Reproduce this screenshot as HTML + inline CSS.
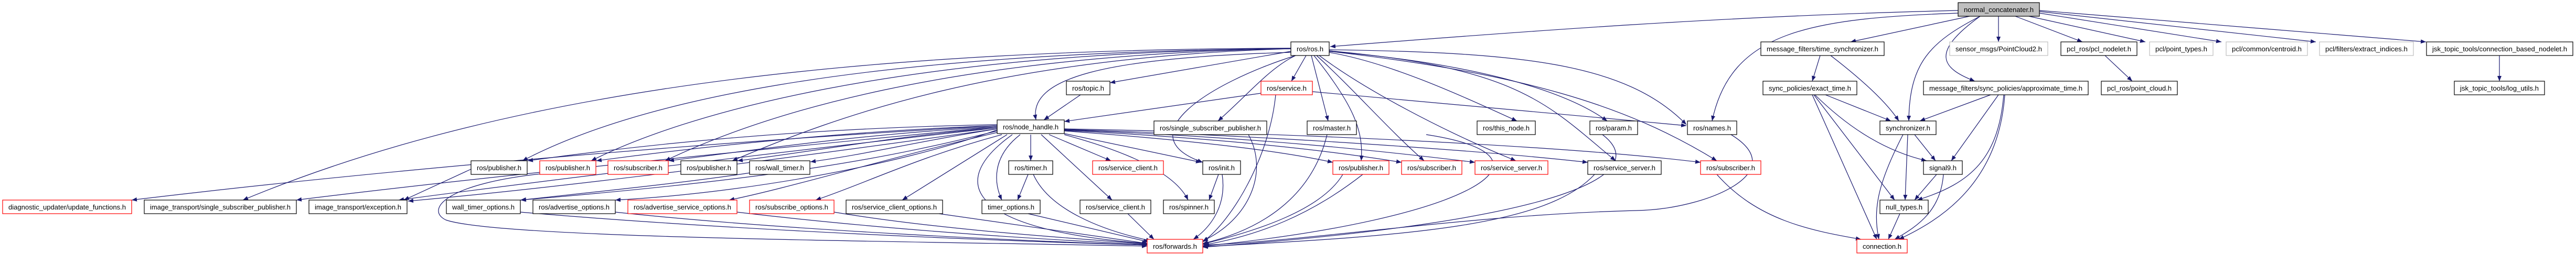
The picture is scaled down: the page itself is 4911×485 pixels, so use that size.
<!DOCTYPE html>
<html><head><meta charset="utf-8"><style>
html,body{margin:0;padding:0;background:#fff;}
svg{display:block;}
text{font-family:"Liberation Sans",sans-serif;font-size:13px;fill:#000;}
.e{fill:none;stroke:#191970;stroke-width:1.2;marker-end:url(#a);}
.k{fill:#fff;stroke:#000;stroke-width:1.2;}
.r{fill:#fff;stroke:#ff0000;stroke-width:1.2;}
.g{fill:#fff;stroke:#bfbfbf;stroke-width:1.2;}
</style></head><body>
<svg width="4911" height="485" viewBox="0 0 4911 485" xmlns="http://www.w3.org/2000/svg">
<defs><marker id="a" viewBox="0 0 10 10" refX="10" refY="5" markerWidth="10" markerHeight="10" markerUnits="userSpaceOnUse" orient="auto"><path d="M0,1 L10,5 L0,9 z" fill="#191970"/></marker></defs>
<g>
<!-- normal_concatenater edges -->
<path class="e" d="M3733 20 C3300 30 2900 60 2536 89"/>
<path class="e" d="M3735 25 C3450 35 3300 60 3264 231"/>
<path class="e" d="M3755 31 L3528 80"/>
<path class="e" d="M3775 31 C3680 80 3640 120 3639 231"/>
<path class="e" d="M3775 31 C3680 100 3700 130 3765 155"/>
<path class="e" d="M3810 31 L3810 80"/>
<path class="e" d="M3842 31 L3970 80"/>
<path class="e" d="M3868 31 L4090 80"/>
<path class="e" d="M3888 25 L4235 80"/>
<path class="e" d="M3888 22 L4415 80"/>
<path class="e" d="M3888 20 L4625 80"/>
<path class="e" d="M4013 106 L4065 155"/>
<path class="e" d="M4765 106 L4765 155"/>
<path class="e" d="M3470 106 L3455 155"/>
<path class="e" d="M3490 106 C3560 160 3600 200 3620 231"/>
<path class="e" d="M3480 181 L3605 231"/>
<path class="e" d="M3460 181 C3530 250 3600 290 3673 307"/>
<path class="e" d="M3458 181 L3612 382"/>
<path class="e" d="M3455 181 L3578 457"/>
<path class="e" d="M3795 181 L3660 231"/>
<path class="e" d="M3810 181 L3720 307"/>
<path class="e" d="M3820 181 C3810 300 3760 350 3655 382"/>
<path class="e" d="M3822 181 C3810 350 3700 420 3620 457"/>
<path class="e" d="M3650 257 L3690 307"/>
<path class="e" d="M3637 257 L3632 382"/>
<path class="e" d="M3628 257 C3580 350 3570 400 3582 457"/>
<path class="e" d="M3692 333 L3650 382"/>
<path class="e" d="M3705 333 C3700 400 3660 430 3612 457"/>
<path class="e" d="M3622 408 L3600 457"/>
<path class="e" d="M3300 257 C3420 330 3250 400 3120 402 C2800 410 2500 460 2295 468"/>
<path class="e" d="M3273 333 C3350 420 3450 440 3548 457"/>
<!-- ros.h edges -->
<path class="e" d="M2534 95 C2900 100 3100 120 3215 238"/>
<path class="e" d="M2534 98 C2900 140 3100 200 3273 307"/>
<path class="e" d="M2502 175 C2800 200 3000 220 3215 240"/>
<path class="e" d="M2461 100 C2100 110 1960 150 1975 229"/>
<path class="e" d="M2461 98 L2116 158"/>
<path class="e" d="M2060 181 L1990 229"/>
<path class="e" d="M2404 178 L2029 232"/>
<path class="e" d="M2490 106 L2462 155"/>
<path class="e" d="M2470 106 C2420 130 2380 180 2322 231"/>
<path class="e" d="M2500 106 L2532 231"/>
<path class="e" d="M2505 106 C2580 200 2600 250 2595 307"/>
<path class="e" d="M2510 106 C2580 170 2650 250 2715 307"/>
<path class="e" d="M2515 106 C2600 170 2750 250 2890 307"/>
<path class="e" d="M2534 100 C2650 120 2780 180 2892 231"/>
<path class="e" d="M2534 98 C2800 120 2980 170 3064 231"/>
<path class="e" d="M2534 97 C2900 130 2950 200 3080 307"/>
<path class="e" d="M2470 106 C2300 160 2150 260 2293 310"/>
<path class="e" d="M2461 93 C1600 100 1200 200 996 307"/>
<path class="e" d="M2461 93 C1700 100 1300 220 1127 307"/>
<path class="e" d="M2461 93 C1800 105 1450 220 1268 307"/>
<path class="e" d="M2461 93 C1900 110 1600 220 1396 307"/>
<path class="e" d="M2461 92 C1500 95 900 200 463 382"/>
<!-- node_handle edges -->
<path class="e" d="M1901 240 C1200 280 600 340 251 382"/>
<path class="e" d="M1901 242 C1400 290 900 340 565 382"/>
<path class="e" d="M1901 244 C1400 300 1000 350 760 382"/>
<path class="e" d="M1901 246 C1450 310 1050 360 778 384"/>
<path class="e" d="M1901 238 C1500 245 1200 280 1006 307"/>
<path class="e" d="M1901 240 C1600 250 1300 285 1137 307"/>
<path class="e" d="M1901 242 C1650 255 1450 285 1275 307"/>
<path class="e" d="M1901 244 C1700 260 1550 290 1406 307"/>
<path class="e" d="M1901 246 C1750 270 1650 295 1545 309"/>
<path class="e" d="M1901 250 C1700 300 1500 340 992 382"/>
<path class="e" d="M1430 330 C1300 350 1100 370 993 382"/>
<path class="e" d="M1901 248 C1700 320 1400 370 1173 382"/>
<path class="e" d="M1905 252 C1700 300 1500 360 1390 382"/>
<path class="e" d="M1910 257 C1750 300 1650 350 1555 382"/>
<path class="e" d="M1920 257 L1720 382"/>
<path class="e" d="M1965 257 L1965 307"/>
<path class="e" d="M1945 257 C1890 300 1895 350 1910 382"/>
<path class="e" d="M2000 257 L2118 307"/>
<path class="e" d="M1985 257 L2120 382"/>
<path class="e" d="M2029 255 L2290 310"/>
<path class="e" d="M2029 257 C2150 290 2240 330 2265 382"/>
<path class="e" d="M1930 257 C1800 350 1850 440 2187 465"/>
<path class="e" d="M2029 250 C2300 270 2450 290 2541 310"/>
<path class="e" d="M2029 249 C2350 265 2550 290 2672 310"/>
<path class="e" d="M2029 248 C2400 262 2650 290 2812 310"/>
<path class="e" d="M2029 247 C2450 260 2850 290 3027 310"/>
<path class="e" d="M2029 246 C2500 255 3000 280 3242 310"/>
<!-- to forwards -->
<path class="e" d="M1960 333 L1940 382"/>
<path class="e" d="M1970 333 C2000 400 2100 440 2195 460"/>
<path class="e" d="M2323 333 L2305 382"/>
<path class="e" d="M2330 333 C2340 400 2300 440 2275 457"/>
<path class="e" d="M2150 408 L2200 457"/>
<path class="e" d="M1960 408 L2190 462"/>
<path class="e" d="M1790 408 L2188 465"/>
<path class="e" d="M992 405 C1400 440 1900 460 2187 468"/>
<path class="e" d="M1173 405 C1500 440 1950 460 2187 468"/>
<path class="e" d="M1405 405 C1700 440 2000 458 2187 467"/>
<path class="e" d="M1590 405 C1800 440 2050 455 2187 466"/>
<path class="e" d="M1040 331 C850 350 810 400 850 420 C950 455 1700 460 2187 470"/>
<path class="e" d="M898 323 L770 382"/>
<path class="e" d="M2530 257 C2500 380 2400 440 2293 465"/>
<path class="e" d="M2432 181 C2420 300 2350 420 2293 462"/>
<path class="e" d="M2560 333 C2520 400 2400 440 2293 466"/>
<path class="e" d="M2598 333 C2500 410 2400 450 2293 468"/>
<path class="e" d="M2719 257 C3000 300 2800 420 2293 470"/>
<path class="e" d="M3040 333 C2950 430 2700 450 2293 471"/>
<path class="e" d="M3055 257 C3150 330 3000 420 2293 472"/>
<path class="e" d="M2380 257 C2420 330 2380 420 2293 460"/>
</g>
<g>
<rect class="k" x="3733" y="5" width="155" height="26" style="fill:#bfbfbf"/><text x="3810.5" y="23" text-anchor="middle" textLength="133" lengthAdjust="spacingAndGlyphs">normal_concatenater.h</text>

<rect class="k" x="2461" y="80" width="73" height="26"/><text x="2497.5" y="98" text-anchor="middle" textLength="51" lengthAdjust="spacingAndGlyphs">ros/ros.h</text>
<rect class="k" x="3357" y="80" width="235" height="26"/><text x="3474.5" y="98" text-anchor="middle" textLength="213" lengthAdjust="spacingAndGlyphs">message_filters/time_synchronizer.h</text>
<rect class="g" x="3717" y="80" width="187" height="26"/><text x="3810.5" y="98" text-anchor="middle" textLength="165" lengthAdjust="spacingAndGlyphs">sensor_msgs/PointCloud2.h</text>
<rect class="k" x="3929" y="80" width="145" height="26"/><text x="4001.5" y="98" text-anchor="middle" textLength="123" lengthAdjust="spacingAndGlyphs">pcl_ros/pcl_nodelet.h</text>
<rect class="g" x="4098" y="80" width="121" height="26"/><text x="4158.5" y="98" text-anchor="middle" textLength="99" lengthAdjust="spacingAndGlyphs">pcl/point_types.h</text>
<rect class="g" x="4244" y="80" width="155" height="26"/><text x="4321.5" y="98" text-anchor="middle" textLength="133" lengthAdjust="spacingAndGlyphs">pcl/common/centroid.h</text>
<rect class="g" x="4422" y="80" width="179" height="26"/><text x="4511.5" y="98" text-anchor="middle" textLength="157" lengthAdjust="spacingAndGlyphs">pcl/filters/extract_indices.h</text>
<rect class="k" x="4626" y="80" width="279" height="26"/><text x="4765.5" y="98" text-anchor="middle" textLength="257" lengthAdjust="spacingAndGlyphs">jsk_topic_tools/connection_based_nodelet.h</text>

<rect class="k" x="2033" y="155" width="83" height="26"/><text x="2074.5" y="173" text-anchor="middle" textLength="61" lengthAdjust="spacingAndGlyphs">ros/topic.h</text>
<rect class="r" x="2404" y="155" width="98" height="26"/><text x="2453" y="173" text-anchor="middle" textLength="76" lengthAdjust="spacingAndGlyphs">ros/service.h</text>
<rect class="k" x="3361" y="155" width="179" height="26"/><text x="3450.5" y="173" text-anchor="middle" textLength="157" lengthAdjust="spacingAndGlyphs">sync_policies/exact_time.h</text>
<rect class="k" x="3667" y="155" width="314" height="26"/><text x="3824" y="173" text-anchor="middle" textLength="292" lengthAdjust="spacingAndGlyphs">message_filters/sync_policies/approximate_time.h</text>
<rect class="k" x="4006" y="155" width="145" height="26"/><text x="4078.5" y="173" text-anchor="middle" textLength="123" lengthAdjust="spacingAndGlyphs">pcl_ros/point_cloud.h</text>
<rect class="k" x="4679" y="155" width="172" height="26"/><text x="4765" y="173" text-anchor="middle" textLength="150" lengthAdjust="spacingAndGlyphs">jsk_topic_tools/log_utils.h</text>

<rect class="k" x="1901" y="229" width="128" height="26"/><text x="1965" y="247" text-anchor="middle" textLength="106" lengthAdjust="spacingAndGlyphs">ros/node_handle.h</text>
<rect class="k" x="2200" y="231" width="215" height="26"/><text x="2307.5" y="249" text-anchor="middle" textLength="193" lengthAdjust="spacingAndGlyphs">ros/single_subscriber_publisher.h</text>
<rect class="k" x="2492" y="231" width="94" height="26"/><text x="2539" y="249" text-anchor="middle" textLength="72" lengthAdjust="spacingAndGlyphs">ros/master.h</text>
<rect class="k" x="2816" y="231" width="111" height="26"/><text x="2871.5" y="249" text-anchor="middle" textLength="89" lengthAdjust="spacingAndGlyphs">ros/this_node.h</text>
<rect class="k" x="3031" y="231" width="91" height="26"/><text x="3076.5" y="249" text-anchor="middle" textLength="69" lengthAdjust="spacingAndGlyphs">ros/param.h</text>
<rect class="k" x="3217" y="231" width="94" height="26"/><text x="3264" y="249" text-anchor="middle" textLength="72" lengthAdjust="spacingAndGlyphs">ros/names.h</text>
<rect class="k" x="3584" y="231" width="107" height="26"/><text x="3637.5" y="249" text-anchor="middle" textLength="85" lengthAdjust="spacingAndGlyphs">synchronizer.h</text>

<rect class="k" x="898" y="307" width="107" height="26"/><text x="951.5" y="325" text-anchor="middle" textLength="85" lengthAdjust="spacingAndGlyphs">ros/publisher.h</text>
<rect class="r" x="1029" y="307" width="107" height="26"/><text x="1082.5" y="325" text-anchor="middle" textLength="85" lengthAdjust="spacingAndGlyphs">ros/publisher.h</text>
<rect class="r" x="1159" y="307" width="115" height="26"/><text x="1216.5" y="325" text-anchor="middle" textLength="93" lengthAdjust="spacingAndGlyphs">ros/subscriber.h</text>
<rect class="k" x="1298" y="307" width="107" height="26"/><text x="1351.5" y="325" text-anchor="middle" textLength="85" lengthAdjust="spacingAndGlyphs">ros/publisher.h</text>
<rect class="k" x="1429" y="307" width="115" height="26"/><text x="1486.5" y="325" text-anchor="middle" textLength="93" lengthAdjust="spacingAndGlyphs">ros/wall_timer.h</text>
<rect class="k" x="1923" y="307" width="84" height="26"/><text x="1965" y="325" text-anchor="middle" textLength="62" lengthAdjust="spacingAndGlyphs">ros/timer.h</text>
<rect class="r" x="2083" y="307" width="135" height="26"/><text x="2150.5" y="325" text-anchor="middle" textLength="113" lengthAdjust="spacingAndGlyphs">ros/service_client.h</text>
<rect class="k" x="2293" y="307" width="72" height="26"/><text x="2329" y="325" text-anchor="middle" textLength="50" lengthAdjust="spacingAndGlyphs">ros/init.h</text>
<rect class="r" x="2541" y="307" width="107" height="26"/><text x="2594.5" y="325" text-anchor="middle" textLength="85" lengthAdjust="spacingAndGlyphs">ros/publisher.h</text>
<rect class="r" x="2672" y="307" width="115" height="26"/><text x="2729.5" y="325" text-anchor="middle" textLength="93" lengthAdjust="spacingAndGlyphs">ros/subscriber.h</text>
<rect class="r" x="2812" y="307" width="139" height="26"/><text x="2881.5" y="325" text-anchor="middle" textLength="117" lengthAdjust="spacingAndGlyphs">ros/service_server.h</text>
<rect class="k" x="3027" y="307" width="140" height="26"/><text x="3097" y="325" text-anchor="middle" textLength="118" lengthAdjust="spacingAndGlyphs">ros/service_server.h</text>
<rect class="r" x="3242" y="307" width="115" height="26"/><text x="3299.5" y="325" text-anchor="middle" textLength="93" lengthAdjust="spacingAndGlyphs">ros/subscriber.h</text>
<rect class="k" x="3667" y="307" width="74" height="26"/><text x="3704" y="325" text-anchor="middle" textLength="52" lengthAdjust="spacingAndGlyphs">signal9.h</text>

<rect class="r" x="5" y="382" width="246" height="26"/><text x="128" y="400" text-anchor="middle" textLength="224" lengthAdjust="spacingAndGlyphs">diagnostic_updater/update_functions.h</text>
<rect class="k" x="275" y="382" width="290" height="26"/><text x="420" y="400" text-anchor="middle" textLength="268" lengthAdjust="spacingAndGlyphs">image_transport/single_subscriber_publisher.h</text>
<rect class="k" x="589" y="382" width="187" height="26"/><text x="682.5" y="400" text-anchor="middle" textLength="165" lengthAdjust="spacingAndGlyphs">image_transport/exception.h</text>
<rect class="k" x="851" y="382" width="141" height="26"/><text x="921.5" y="400" text-anchor="middle" textLength="119" lengthAdjust="spacingAndGlyphs">wall_timer_options.h</text>
<rect class="k" x="1016" y="382" width="157" height="26"/><text x="1094.5" y="400" text-anchor="middle" textLength="135" lengthAdjust="spacingAndGlyphs">ros/advertise_options.h</text>
<rect class="r" x="1197" y="382" width="208" height="26"/><text x="1301" y="400" text-anchor="middle" textLength="186" lengthAdjust="spacingAndGlyphs">ros/advertise_service_options.h</text>
<rect class="r" x="1429" y="382" width="161" height="26"/><text x="1509.5" y="400" text-anchor="middle" textLength="139" lengthAdjust="spacingAndGlyphs">ros/subscribe_options.h</text>
<rect class="k" x="1613" y="382" width="184" height="26"/><text x="1705" y="400" text-anchor="middle" textLength="162" lengthAdjust="spacingAndGlyphs">ros/service_client_options.h</text>
<rect class="k" x="1872" y="382" width="111" height="26"/><text x="1927.5" y="400" text-anchor="middle" textLength="89" lengthAdjust="spacingAndGlyphs">timer_options.h</text>
<rect class="k" x="2059" y="382" width="135" height="26"/><text x="2126.5" y="400" text-anchor="middle" textLength="113" lengthAdjust="spacingAndGlyphs">ros/service_client.h</text>
<rect class="k" x="2218" y="382" width="97" height="26"/><text x="2266.5" y="400" text-anchor="middle" textLength="75" lengthAdjust="spacingAndGlyphs">ros/spinner.h</text>
<rect class="k" x="3584" y="382" width="92" height="26"/><text x="3630" y="400" text-anchor="middle" textLength="70" lengthAdjust="spacingAndGlyphs">null_types.h</text>

<rect class="r" x="2187" y="457" width="106" height="26"/><text x="2240" y="475" text-anchor="middle" textLength="84" lengthAdjust="spacingAndGlyphs">ros/forwards.h</text>
<rect class="r" x="3540" y="457" width="96" height="26"/><text x="3588" y="475" text-anchor="middle" textLength="74" lengthAdjust="spacingAndGlyphs">connection.h</text>
</g>
</svg>
</body></html>
